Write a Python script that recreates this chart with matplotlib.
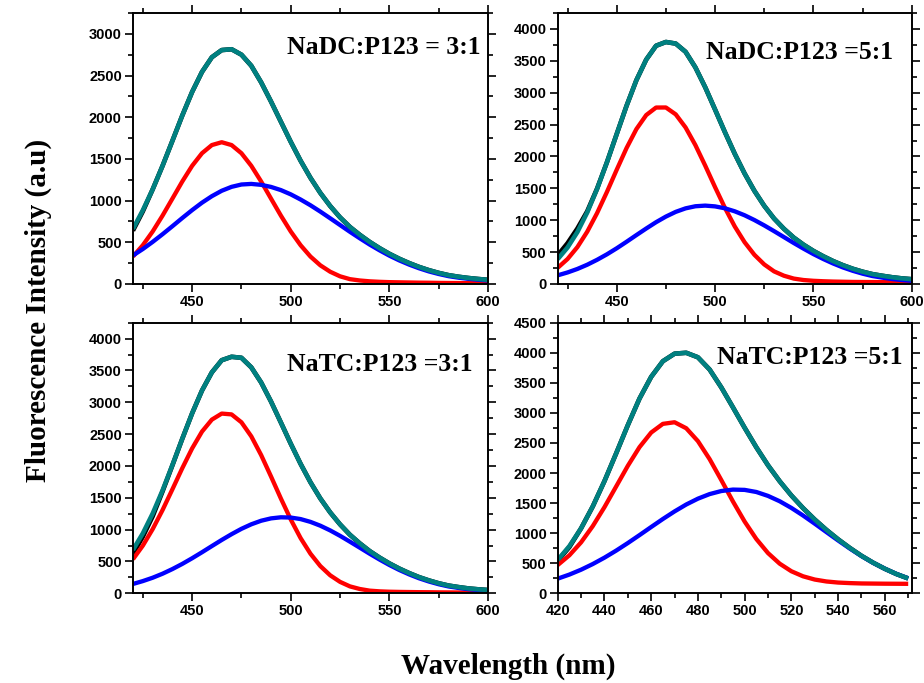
"""Fluorescence spectra with two-component fits, four compositions."""
import matplotlib
matplotlib.use("Agg")
import matplotlib.pyplot as plt
from matplotlib.ticker import MultipleLocator

# wavelength grids (nm), 5 nm steps
wl_main = list(range(420, 605, 5))
wl_tc51 = list(range(420, 575, 5))

# NaDC:P123 = 3:1
black_dc31 = [640, 870, 1135, 1417, 1717, 2020, 2303, 2543, 2719, 2805, 2815, 2750, 2617,
              2418, 2188, 1946, 1705, 1478, 1273, 1092, 935, 799, 684, 590, 505, 430,
              362, 303, 251, 205, 166, 133, 106, 87, 72, 60, 50]
teal_dc31 = [660, 884, 1135, 1417, 1717, 2020, 2303, 2543, 2719, 2805, 2815, 2750, 2617,
             2418, 2188, 1946, 1705, 1478, 1273, 1092, 935, 799, 684, 590, 505, 430,
             362, 303, 251, 205, 166, 133, 106, 87, 72, 60, 50]
red_dc31 = [329, 465, 630, 820, 1024, 1229, 1417, 1568, 1666, 1700, 1666, 1568, 1417,
            1229, 1024, 820, 630, 465, 329, 224, 147, 92, 58, 42, 32, 26,
            22, 20, 18, 16, 15, 13, 12, 11, 10, 9, 8]
blue_dc31 = [342, 419, 505, 597, 693, 791, 886, 975, 1053, 1118, 1165, 1193, 1200,
             1189, 1164, 1126, 1075, 1013, 944, 868, 788, 707, 626, 548, 473, 404,
             340, 283, 233, 189, 151, 120, 94, 76, 62, 51, 42]

# NaDC:P123 = 5:1
black_dc51 = [450, 640, 870, 1140, 1495, 1907, 2352, 2794, 3196, 3519, 3736, 3795, 3770,
              3641, 3397, 3085, 2736, 2382, 2043, 1734, 1461, 1226, 1027, 866, 728, 616,
              519, 435, 360, 295, 239, 193, 155, 129, 106, 88, 75]
teal_dc51 = [390, 573, 815, 1122, 1490, 1907, 2352, 2794, 3196, 3519, 3736, 3795, 3770,
             3641, 3397, 3085, 2736, 2382, 2043, 1734, 1461, 1226, 1027, 866, 728, 616,
             519, 435, 360, 295, 239, 193, 155, 129, 106, 88, 75]
red_dc51 = [254, 392, 579, 820, 1111, 1442, 1792, 2132, 2429, 2649, 2767, 2768, 2660,
            2455, 2178, 1856, 1519, 1195, 903, 656, 458, 307, 198, 130, 85, 62,
            50, 43, 38, 35, 32, 31, 30, 29, 28, 26, 25]
blue_dc51 = [136, 181, 236, 302, 379, 465, 560, 662, 767, 870, 969, 1057, 1131,
             1186, 1219, 1229, 1217, 1187, 1140, 1078, 1003, 919, 829, 736, 643, 554,
             469, 392, 322, 260, 207, 162, 125, 100, 78, 62, 50]

# NaTC:P123 = 3:1
black_tc31 = [620, 890, 1210, 1600, 2010, 2427, 2827, 3185, 3470, 3661, 3715, 3699, 3549,
              3311, 3012, 2683, 2350, 2033, 1744, 1490, 1271, 1083, 920, 785, 664, 562,
              470, 389, 318, 255, 203, 158, 122, 98, 77, 63, 52]
teal_tc31 = [682, 941, 1254, 1616, 2015, 2427, 2827, 3185, 3470, 3661, 3715, 3699, 3549,
             3311, 3012, 2683, 2350, 2033, 1744, 1490, 1271, 1083, 920, 785, 664, 562,
             470, 389, 318, 255, 203, 158, 122, 98, 77, 63, 52]
red_tc31 = [535, 749, 1009, 1308, 1634, 1965, 2276, 2540, 2728, 2823, 2810, 2686, 2465,
            2171, 1835, 1489, 1160, 867, 622, 428, 283, 180, 109, 68, 42, 31,
            25, 22, 20, 18, 17, 15, 14, 13, 12, 11, 10]
blue_tc31 = [147, 192, 245, 308, 381, 462, 551, 645, 742, 838, 929, 1013, 1084,
             1140, 1177, 1194, 1190, 1166, 1122, 1062, 988, 903, 811, 717, 622, 531,
             445, 367, 298, 237, 186, 143, 108, 85, 65, 52, 42]

# NaTC:P123 = 5:1
black_tc51 = [540, 770, 1081, 1445, 1866, 2326, 2796, 3239, 3600, 3860, 3985, 4000, 3925,
              3722, 3425, 3092, 2753, 2428, 2129, 1864, 1627, 1417, 1227, 1055, 898, 755,
              624, 509, 408, 320, 247]
teal_tc51 = [554, 785, 1081, 1445, 1866, 2326, 2796, 3239, 3600, 3860, 3985, 4000, 3925,
             3722, 3425, 3092, 2753, 2428, 2129, 1864, 1627, 1417, 1227, 1055, 898, 755,
             624, 509, 408, 320, 247]
red_tc51 = [470, 633, 848, 1118, 1433, 1776, 2120, 2431, 2674, 2818, 2845, 2745, 2531,
            2232, 1884, 1527, 1193, 903, 669, 493, 367, 283, 229, 197, 179, 170,
            164, 162, 160, 159, 158]
blue_tc51 = [244, 312, 393, 487, 593, 710, 836, 968, 1103, 1236, 1362, 1477, 1574,
             1650, 1701, 1725, 1720, 1685, 1620, 1531, 1420, 1294, 1158, 1018, 879, 745,
             620, 507, 408, 321, 249]

labels = ["NaDC:P123 = 3:1", "NaDC:P123 =5:1", "NaTC:P123 =3:1", "NaTC:P123 =5:1"]

SANS = ["Liberation Sans", "DejaVu Sans"]
SERIF = ["Liberation Serif", "DejaVu Serif"]

panels = [
    dict(rect=[0.1439, 0.5842, 0.3842, 0.3968], wl=wl_main,
         curves=(black_dc31, red_dc31, blue_dc31, teal_dc31),
         xlim=(420, 600), ylim=(0, 3250), ymax=3000, xmaj=50, xmin=25,
         label=labels[0], lx=0.980, ly=0.871),
    dict(rect=[0.6036, 0.5842, 0.3831, 0.3968], wl=wl_main,
         curves=(black_dc51, red_dc51, blue_dc51, teal_dc51),
         xlim=(420, 600), ylim=(0, 4250), ymax=4000, xmaj=50, xmin=25,
         label=labels[1], lx=0.947, ly=0.856),
    dict(rect=[0.1439, 0.1313, 0.3842, 0.3962], wl=wl_main,
         curves=(black_tc31, red_tc31, blue_tc31, teal_tc31),
         xlim=(420, 600), ylim=(0, 4250), ymax=4000, xmaj=50, xmin=25,
         label=labels[2], lx=0.958, ly=0.844),
    dict(rect=[0.6036, 0.1313, 0.3831, 0.3962], wl=wl_tc51,
         curves=(black_tc51, red_tc51, blue_tc51, teal_tc51),
         xlim=(420, 571.5), ylim=(0, 4500), ymax=4500, xmaj=20, xmin=10,
         label=labels[3], lx=0.973, ly=0.870),
]

fig = plt.figure(figsize=(9.24, 6.83), dpi=100)

for p in panels:
    ax = fig.add_axes(p["rect"])
    black, red, blue, teal = p["curves"]
    style = dict(solid_capstyle="butt", solid_joinstyle="round")
    ax.plot(p["wl"], black, color="black", lw=3.3, **style)
    ax.plot(p["wl"], red, color="#ff0000", lw=3.1, **style)
    ax.plot(p["wl"], blue, color="#0000ff", lw=3.1, **style)
    ax.plot(p["wl"], teal, color="#008080", lw=3.3, **style)

    ax.set_xlim(*p["xlim"])
    ax.set_ylim(*p["ylim"])
    ax.set_yticks(range(0, p["ymax"] + 1, 500))
    ax.yaxis.set_minor_locator(MultipleLocator(250))
    ax.xaxis.set_major_locator(MultipleLocator(p["xmaj"]))
    ax.xaxis.set_minor_locator(MultipleLocator(p["xmin"]))
    if p["xmaj"] == 50:
        ax.set_xticks([450, 500, 550, 600])

    ax.tick_params(which="both", direction="out", top=True, right=True,
                   labeltop=False, labelright=False, width=1.2, colors="black")
    ax.tick_params(which="major", length=6, pad=2)
    ax.tick_params(which="minor", length=3.5)
    for lab in ax.get_xticklabels() + ax.get_yticklabels():
        lab.set_fontfamily(SANS)
        lab.set_fontweight("bold")
        lab.set_fontsize(10.5)
    for sp in ax.spines.values():
        sp.set_linewidth(1.4)

    ax.text(p["lx"], p["ly"], p["label"], transform=ax.transAxes,
            ha="right", va="center", family=SERIF, fontweight="bold",
            fontsize=18.5)

fig.text(0.041, 0.546, "Fluorescence Intensity (a.u)", rotation=90,
         ha="center", va="center", family=SERIF, fontweight="bold", fontsize=21)
fig.text(0.55, 0.024, "Wavelength (nm)", ha="center", va="center",
         family=SERIF, fontweight="bold", fontsize=21)

fig.savefig("out.png", dpi=100)
plt.close(fig)
